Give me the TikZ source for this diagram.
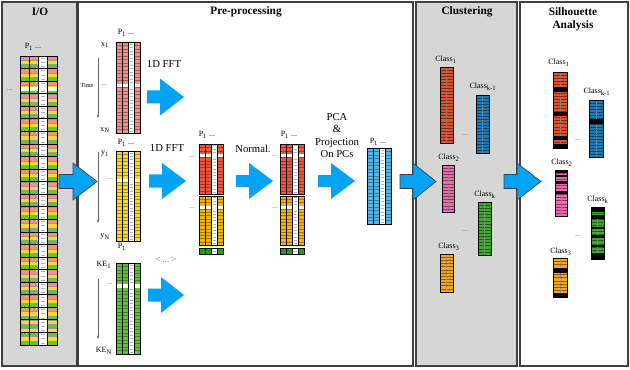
\documentclass[tikz,border=0pt]{standalone}
\usepackage{fontspec}
\setmainfont{Liberation Serif}
\usetikzlibrary{arrows.meta}

\definecolor{panelgray}{HTML}{D6D6D6}
\definecolor{panelline}{HTML}{404040}
\definecolor{salmon}{HTML}{F28F86}
\definecolor{yel}{HTML}{FAD829}
\definecolor{grn}{HTML}{5EC62F}
\definecolor{fftred}{HTML}{F2553A}
\definecolor{fftorange}{HTML}{F3B400}
\definecolor{dkgreen}{HTML}{1E9E1E}
\definecolor{ltblue}{HTML}{55B4EA}
\definecolor{cred}{HTML}{E2502E}
\definecolor{cblue}{HTML}{1B7BC2}
\definecolor{cpink}{HTML}{F06AAE}
\definecolor{cgreen}{HTML}{3DAA2D}
\definecolor{corange}{HTML}{FFA31A}
\definecolor{arrowblue}{HTML}{00A3F5}

\tikzset{
  panel/.style={draw=panelline, line width=1pt},
  titletext/.style={font=\fontsize{8.5}{10}\selectfont\bfseries, align=center, inner sep=0},
  lab/.style={font=\fontsize{8}{9.2}\selectfont, align=center, inner sep=0},
  smalllab/.style={font=\fontsize{6}{7}\selectfont, inner sep=0},
  tinylab/.style={font=\fontsize{4.6}{5}\selectfont, inner sep=0},
  dotslab/.style={font=\fontsize{6}{7}\selectfont, text=black!55, inner sep=0},
  whitegrid/.style={black!30, line width=0.3pt},
  colline/.style={black, line width=0.5pt},
  matborder/.style={black, line width=0.7pt},
  innerarrow/.style={fill=arrowblue, draw=none},
  outerarrow/.style={fill=arrowblue, draw=black!75, line width=0.5pt},
  timearrow/.style={black!60, line width=0.5pt, -{Stealth[length=2.5pt,width=2pt]}},
}

% x0, y0, width, height, colour, rows, gap row (0 = none)
\newcommand{\drawmatrix}[7]{%
  \pgfmathsetmacro{\mcw}{#3/4}%
  \pgfmathsetmacro{\mrh}{#4/#6}%
  \fill[#5] (#1,#2) rectangle ++(#3,#4);%
  \fill[white] (#1+2*\mcw,#2) rectangle ++(\mcw,#4);%
  \foreach \k in {1,...,#6}{%
    \draw[#5!65!black, line width=0.2pt] (#1,#2+\k*\mrh) -- ++(2*\mcw,0);%
    \draw[#5!65!black, line width=0.2pt] (#1+3*\mcw,#2+\k*\mrh) -- ++(\mcw,0);%
    \draw[whitegrid] (#1+2.25*\mcw,#2+\k*\mrh-0.5*\mrh) -- ++(0.5*\mcw,0);}%
  \ifnum#7>0 \fill[white] (#1,#2+#7*\mrh) rectangle ++(#3,\mrh);\fi
  \foreach \k in {1,2,3}{\draw[colline] (#1+\k*\mcw,#2) -- ++(0,#4);}%
  \draw[matborder] (#1,#2) rectangle ++(#3,#4);%
}

% x0, y0, x1, y1, colour, rows
\newcommand{\drawbar}[6]{%
  \fill[#5] (#1,#2) rectangle (#3,#4);%
  \pgfmathsetmacro{\brh}{(#4-#2)/#6}%
  \foreach \k in {1,...,#6}{\draw[#5!55!black, line width=0.3pt] (#1,#2+\k*\brh) -- (#3,#2+\k*\brh);}%
  \draw[black!45, densely dotted, line width=0.25pt] ({(#1+#3)/2},#2) -- ({(#1+#3)/2},#4);%
}

% [style] x0, xhead, xtip, ycentre, half height, half shaft
\newcommand{\blockarrow}[7][]{%
  \filldraw[#1] (#2,#5-#7) -- (#3,#5-#7) -- (#3,#5-#6) -- (#4,#5) -- (#3,#5+#6) -- (#3,#5+#7) -- (#2,#5+#7) -- cycle;%
}

\begin{document}
\begin{tikzpicture}[x=0.75pt,y=-0.75pt]
\useasboundingbox (0,0) rectangle (630,370);

% ---------- panels ----------
\draw[panel, fill=panelgray] (2,2) rectangle (77,366);
\draw[panel, fill=white] (78.5,2) rectangle (413,366);
\draw[panel, fill=panelgray] (416,2) rectangle (517,366);
\draw[panel, fill=white] (520,2) rectangle (628,366);

\node[titletext] (tio) at (40,12) {I/O};
\node[titletext] (tpre) at (246,12) {Pre-processing};
\node[titletext] (tclu) at (467,12) {Clustering};
\node[titletext] (tsil) at (573,19) {Silhouette\\Analysis};

% ---------- I/O matrix ----------
\foreach \g in {0,...,22}{
  \fill[salmon] (20,56+\g*12.565) rectangle ++(37,4.19);
  \fill[yel] (20,56+\g*12.565+4.19) rectangle ++(37,4.19);
  \fill[grn] (20,56+\g*12.565+8.38) rectangle ++(37,4.19);
}
\fill[yel] (20,320) rectangle ++(37,4.2);
\fill[grn] (20,324.2) rectangle ++(37,4.2);
\fill[yel] (20,328.4) rectangle ++(37,4.2);
\fill[grn] (20,332.6) rectangle ++(37,4.2);
\fill[white] (38.5,56) rectangle (47.75,345);
\foreach \r in {1,...,69}{
  \draw[black!40, line width=0.2pt] (20,56+\r*4.188) -- ++(18.5,0);
  \draw[black!40, line width=0.2pt] (47.75,56+\r*4.188) -- ++(9.25,0);
  \draw[whitegrid] (40.8,56+\r*4.188-2.1) -- ++(4.6,0);}
\fill[white] (20,87) rectangle (57,91);
\foreach \g in {1,...,22}{\draw[black, line width=0.6pt] (20,56+\g*12.565) -- ++(37,0);}
\foreach \c in {1,2,3}{\draw[colline] (20+\c*9.25,56) -- ++(0,289);}
\draw[matborder] (20,56) rectangle (57,345);
\node[smalllab] (iop) at (33,47) {P\textsubscript{1} ...};
\node[dotslab] (iodots) at (10,90) {...};

% ---------- pre-processing: inputs ----------
\drawmatrix{116}{42}{24}{91}{salmon}{26}{12}
\drawmatrix{116}{151}{24}{90}{yel}{26}{8}
\drawmatrix{116}{263}{24}{91}{grn}{26}{6}

\node[smalllab] (xp) at (126,33) {P\textsubscript{1} ...};
\node[smalllab] (x1) at (105,45) {x\textsubscript{1}};
\node[smalllab] (xN) at (105,130) {x\textsubscript{N}};
\node[tinylab] (time) at (87,86) {Time};
\node[dotslab] (xdots) at (104,85) {...};
\coordinate (ta1) at (98,58); \coordinate (tb1) at (98,118);
\draw[timearrow] (ta1) -- (tb1);

\node[smalllab] (yp) at (126,143) {P\textsubscript{1} ...};
\node[smalllab] (y1) at (105,154) {y\textsubscript{1}};
\node[smalllab] (yN) at (105,237) {y\textsubscript{N}};
\node[smalllab] (yp2) at (122,247) {P\textsubscript{1}};
\node[dotslab] (ydots) at (110,179) {...};
\coordinate (ta2) at (98,152); \coordinate (tb2) at (98,223);
\draw[timearrow] (ta2) -- (tb2);

\node[smalllab] (ke1) at (104,265) {KE\textsubscript{1}};
\node[smalllab] (keN) at (104,351) {KE\textsubscript{N}};
\node[dotslab] (kedots) at (109,284) {...};
\coordinate (ta3) at (98,279); \coordinate (tb3) at (98,339);
\draw[timearrow] (ta3) -- (tb3);

\node[lab] (fft1) at (164,64) {1D FFT};
\node[lab] (fft2) at (167,148) {1D FFT};
\node[font=\fontsize{7}{8}\selectfont, text=black!55, inner sep=0] (ang) at (166,260) {<\,...\,>};

\blockarrow[innerarrow]{147}{160}{184}{97}{18.5}{6.5}
\blockarrow[innerarrow]{149}{162}{186}{181}{18}{6.5}
\blockarrow[innerarrow]{148}{161}{184}{295}{18}{6.5}

% ---------- FFT outputs ----------
\drawmatrix{199}{144}{24}{50}{fftred}{15}{3}
\drawmatrix{199}{196}{24}{49}{fftorange}{15}{3}
\drawmatrix{199}{248}{24}{6}{dkgreen}{1}{0}
\node[smalllab] (fp) at (207,135) {P\textsubscript{1} ...};
\node[dotslab] (fd1) at (192,157) {...};
\node[dotslab] (fd2) at (192,208) {...};

\node[lab] (norm) at (253,149) {Normal.};
\blockarrow[innerarrow]{236}{249}{273}{181}{18}{6}

\drawmatrix{280}{144}{24}{50}{fftred}{15}{3}
\drawmatrix{280}{196}{24}{49}{fftorange}{15}{3}
\drawmatrix{280}{248}{24}{6}{dkgreen}{1}{0}
\node[smalllab] (np) at (289,135) {P\textsubscript{1} ...};
\node[dotslab] (nd1) at (275,156) {...};
\node[dotslab] (nd2) at (275,208) {...};

\node[lab] (pca) at (337,135.5) {PCA\\\&\\Projection\\On PCs};
\blockarrow[innerarrow]{318}{331}{355}{181}{18}{6}

\drawmatrix{367}{148}{24}{76}{ltblue}{22}{0}
\node[smalllab] (bp) at (378,142) {P\textsubscript{1} ...};

% ---------- panel-to-panel arrows ----------
\blockarrow[outerarrow]{59}{73}{97}{181.5}{18.5}{7}
\blockarrow[outerarrow]{400}{413}{436}{181.5}{18.5}{7}
\blockarrow[outerarrow]{504}{517}{541}{181.5}{18.5}{7}

% ---------- clustering ----------
\drawbar{440}{67}{453}{143}{cred}{25}
\draw[matborder] (440,67) rectangle (453,143);
\drawbar{476}{95}{489}{153}{cblue}{19}
\draw[matborder] (476,95) rectangle (489,153);
\drawbar{442}{165}{454}{212}{cpink}{15}
\draw[matborder] (442,165) rectangle (454,212);
\drawbar{478}{202}{491}{255}{cgreen}{17}
\draw[matborder] (478,202) rectangle (491,255);
\drawbar{440}{254}{453}{292}{corange}{12}
\draw[matborder] (440,254) rectangle (453,292);

\node[smalllab] (c1) at (446,60) {Class\textsubscript{1}};
\node[smalllab] (ck1) at (483,87) {Class\textsubscript{k-1}};
\node[dotslab] (cd1) at (465,135) {...};
\node[smalllab] (c2) at (449,158) {Class\textsubscript{2}};
\node[smalllab] (ck) at (485,195) {Class\textsubscript{k}};
\node[dotslab] (cd2) at (465,231) {...};
\node[smalllab] (c3) at (449,247) {Class\textsubscript{3}};

% ---------- silhouette ----------
\drawbar{553}{72}{567}{148}{cred}{25}
\foreach \a/\b in {87/92,112/116,136/140,144/148}{\fill[black] (553,\a) rectangle (567,\b);}
\draw[matborder] (553,72) rectangle (567,148);
\drawbar{589}{100}{603}{157}{cblue}{19}
\foreach \a/\b in {119/124}{\fill[black] (589,\a) rectangle (603,\b);}
\draw[matborder] (589,100) rectangle (603,157);
\drawbar{555}{170}{567}{216}{cpink}{15}
\foreach \a/\b in {170/173,175/177,181/184,191/194}{\fill[black] (555,\a) rectangle (567,\b);}
\draw[matborder] (555,170) rectangle (567,216);
\drawbar{591}{207}{604}{259}{cgreen}{17}
\foreach \a/\b in {207/212,215/219,227/228.5,235/238,245/247,253/259}{\fill[black] (591,\a) rectangle (604,\b);}
\draw[matborder] (591,207) rectangle (604,259);
\drawbar{553}{258}{567}{297}{corange}{12}
\foreach \a/\b in {268/273,293/297}{\fill[black] (553,\a) rectangle (567,\b);}
\draw[matborder] (553,258) rectangle (567,297);

\node[smalllab] (s1) at (559,63) {Class\textsubscript{1}};
\node[smalllab] (sk1) at (597,92) {Class\textsubscript{k-1}};
\node[dotslab] (sd1) at (578,140) {...};
\node[smalllab] (s2) at (562,163) {Class\textsubscript{2}};
\node[smalllab] (sk) at (598,200) {Class\textsubscript{k}};
\node[dotslab] (sd2) at (578,236) {...};
\node[smalllab] (s3) at (561,252) {Class\textsubscript{3}};

\end{tikzpicture}
\end{document}
